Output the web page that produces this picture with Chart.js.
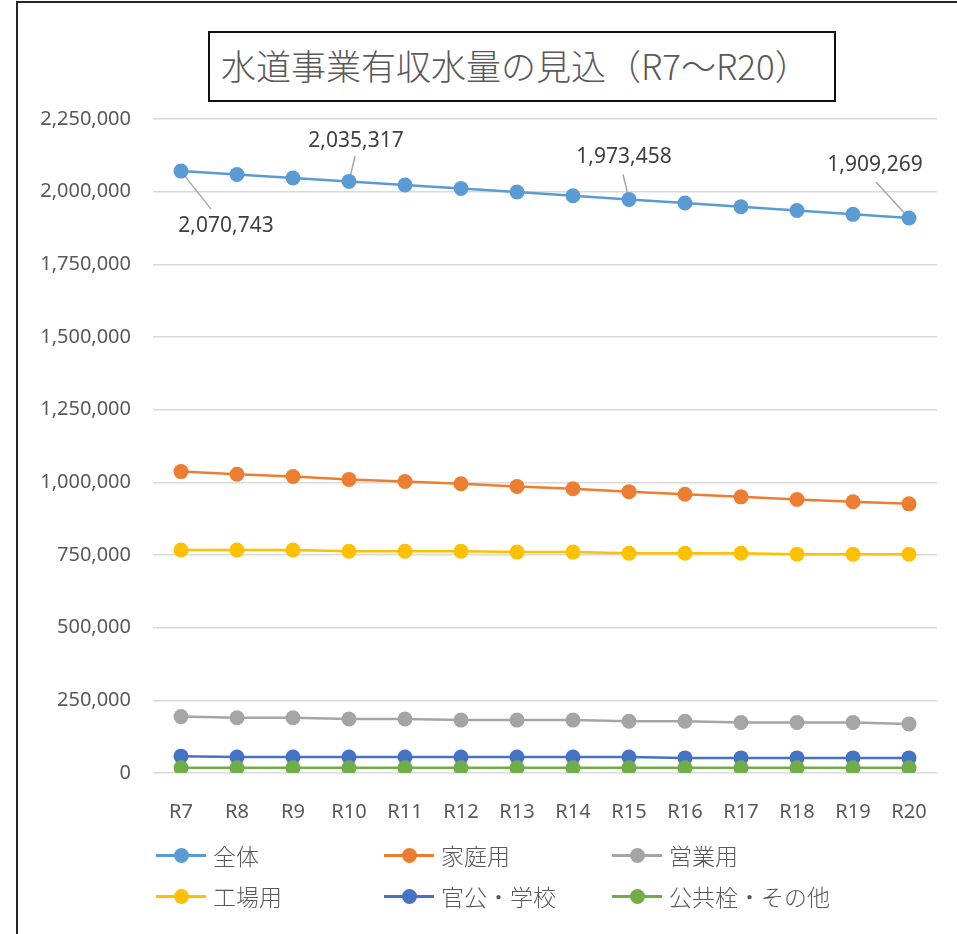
<!DOCTYPE html>
<html>
<head>
<meta charset="utf-8">
<script src="https://cdn.jsdelivr.net/npm/chart.js@4/dist/chart.umd.min.js"></script>
<style>
  html, body { margin: 0; padding: 0; background: #fff; }
  #wrap { position: relative; width: 957px; height: 934px; overflow: hidden; background: #fff; }
  #frame { position: absolute; left: 16px; top: 1px; width: 960px; height: 940px; border-left: 2px solid #262626; border-top: 2px solid #262626; box-sizing: border-box; pointer-events: none; }
  #c { position: absolute; left: 0; top: 0; }
  #title { position: absolute; left: 208px; top: 31px; width: 628px; height: 71px; box-sizing: border-box; border: 2.5px solid #111; font-family: 'Noto Sans CJK JP', sans-serif; font-weight: 300; font-size: 35px; color: #595959; line-height: 64px; padding-left: 11px; white-space: nowrap; background: #fff; }
  .lg { position: absolute; height: 30px; font-family: 'Noto Sans CJK JP', sans-serif; font-weight: 300; font-size: 23px; color: #595959; white-space: nowrap; }
  .lg .ln { position: absolute; left: 0; top: 14px; width: 50px; height: 2.5px; }
  .lg .dt { position: absolute; left: 18px; top: 8px; width: 15px; height: 15px; border-radius: 50%; }
  .lg .tx { position: absolute; left: 57px; top: 0; line-height: 30px; }
</style>
</head>
<body>
<div id="wrap">
  <canvas id="c" width="957" height="934"></canvas>
  <div id="title">水道事業有収水量の見込（R7～R20）</div>
  <div id="legend"></div>
  <div id="frame"></div>
</div>
<script>
const categories = ['R7','R8','R9','R10','R11','R12','R13','R14','R15','R16','R17','R18','R19','R20'];
const seriesNames = ['全体','家庭用','営業用','工場用','官公・学校','公共栓・その他'];
const seriesColors = ['#5B9BD5','#ED7D31','#A5A5A5','#FFC000','#4472C4','#70AD47'];

const total      = [2070743, 2059000, 2047000, 2035317, 2023000, 2011000, 1999000, 1986000, 1973458, 1961000, 1948000, 1935000, 1922000, 1909269];
const household  = [1037000, 1028000, 1020000, 1010000, 1003000, 995000, 986000, 978000, 968000, 959000, 950000, 941000, 933000, 926000];
const commercial = [194000, 190000, 190000, 186000, 186000, 182000, 182000, 182000, 178000, 178000, 174000, 174000, 174000, 169000];
const factory    = [767000, 767000, 767000, 763000, 763000, 763000, 760000, 760000, 756000, 756000, 756000, 753000, 753000, 753000];
const government = [58000, 55000, 55000, 55000, 55000, 55000, 55000, 55000, 55000, 52000, 52000, 52000, 52000, 52000];
const publicOther= [18000, 18000, 18000, 18000, 18000, 18000, 18000, 18000, 18000, 18000, 18000, 18000, 18000, 18000];

const yTicksMax = 2250000;
const yTickStep = 250000;
const labeledPoints = [0, 3, 8, 13];   // indices of 全体 with data labels

const seriesValues = [total, household, commercial, factory, government, publicOther];

const fmt = v => Math.round(v).toLocaleString('en-US');

// label placement (pixel offsets relative to point): text centre and leader-line end
const labelStyle = {
  0:  { tx: 45,  ty: 55,  lx: 30,  ly: 38 },
  3:  { tx: 7,   ty: -40, lx: 6,   ly: -25 },
  8:  { tx: -5,  ty: -42, lx: -6,  ly: -25 },
  13: { tx: -34, ty: -53, lx: -33, ly: -36 }
};

const dataLabelPlugin = {
  id: 'dataLabels',
  beforeDatasetsDraw(chart) {
    const meta = chart.getDatasetMeta(0);
    const ctx = chart.ctx;
    ctx.save();
    ctx.strokeStyle = '#A6A6A6';
    ctx.lineWidth = 1.5;
    labeledPoints.forEach(i => {
      const p = meta.data[i];
      const s = labelStyle[i];
      ctx.beginPath();
      ctx.moveTo(p.x, p.y);
      ctx.lineTo(p.x + s.lx, p.y + s.ly);
      ctx.stroke();
    });
    ctx.restore();
  },
  afterDatasetsDraw(chart) {
    const meta = chart.getDatasetMeta(0);
    const ds = chart.data.datasets[0].data;
    const ctx = chart.ctx;
    ctx.save();
    ctx.fillStyle = '#404040';
    ctx.font = "21px 'Noto Sans', sans-serif";
    ctx.textAlign = 'center';
    ctx.textBaseline = 'middle';
    labeledPoints.forEach(i => {
      const p = meta.data[i];
      const s = labelStyle[i];
      ctx.fillText(fmt(ds[i]), p.x + s.tx, p.y + s.ty);
    });
    ctx.restore();
  }
};

const datasets = seriesNames.map((name, i) => ({
  label: name,
  data: seriesValues[i],
  borderColor: seriesColors[i],
  backgroundColor: seriesColors[i],
  pointBackgroundColor: seriesColors[i],
  pointBorderColor: seriesColors[i],
  pointRadius: 7.5,
  pointBorderWidth: 0,
  borderWidth: 2.5,
  tension: 0,
  order: seriesNames.length - i
}));

const tickFont = { family: "'Noto Sans', 'Noto Sans CJK JP', sans-serif", size: 20 };

const chart = new Chart(document.getElementById('c'), {
  type: 'line',
  data: { labels: categories, datasets },
  options: {
    responsive: false,
    animation: false,
    devicePixelRatio: 1,
    layout: { padding: { top: 119, right: 20, bottom: 101, left: 0 } },
    plugins: { legend: { display: false }, title: { display: false }, tooltip: { enabled: false } },
    scales: {
      x: {
        offset: true,
        grid: { display: false },
        border: { display: false },
        ticks: { color: '#595959', font: tickFont, padding: 19, maxRotation: 0 },
        afterFit(scale) { scale.height = 60; }
      },
      y: {
        min: 0,
        max: yTicksMax,
        grid: { color: '#D9D9D9', lineWidth: 1.5, drawTicks: false },
        border: { display: false },
        ticks: { stepSize: yTickStep, color: '#595959', font: tickFont, padding: 22, callback: v => fmt(v) },
        afterFit(scale) { scale.width = 153; }
      }
    }
  },
  plugins: [dataLabelPlugin]
});

// HTML legend built from chart datasets
const legendCols = [156, 384, 612];
const legendRows = [840, 881];
const legendEl = document.getElementById('legend');
chart.data.datasets.forEach((ds, i) => {
  const item = document.createElement('div');
  item.className = 'lg';
  item.style.left = legendCols[i % 3] + 'px';
  item.style.top = legendRows[Math.floor(i / 3)] + 'px';
  item.innerHTML = '<div class="ln" style="background:' + ds.borderColor + '"></div>' +
                   '<div class="dt" style="background:' + ds.borderColor + '"></div>' +
                   '<div class="tx"></div>';
  item.querySelector('.tx').textContent = ds.label;
  legendEl.appendChild(item);
});
</script>
</body>
</html>
